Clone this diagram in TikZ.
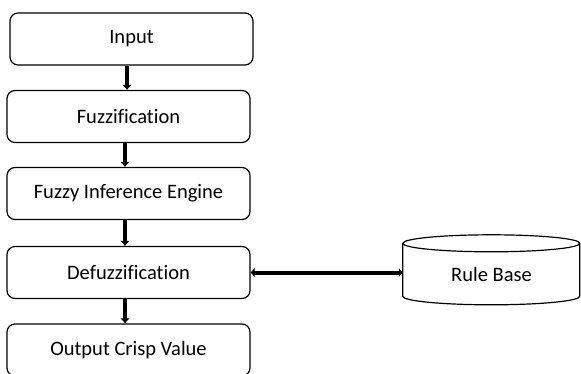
\documentclass[tikz,border=0pt]{standalone}
\usepackage{fontspec}
\setmainfont[Ligatures=NoCommon]{Carlito}
\usetikzlibrary{arrows.meta}
\tikzset{
  label font/.style={font=\fontsize{20.5}{23}\selectfont},
  stage/.style={draw, line width=1.2pt, rounded corners=8pt, minimum width=243pt,
    minimum height=52pt, inner sep=0pt, label font},
  flow/.style={line width=4.2pt, -{Latex[length=5pt,width=10pt]}},
  link/.style={line width=4pt, {Latex[length=4pt,width=10pt]}-{Latex[length=4pt,width=10pt]}},
  drum/.style={draw, line width=1.2pt}
}
\begin{document}
\begin{tikzpicture}[x=1pt,y=-1pt]
  \useasboundingbox (0,0) rectangle (581,373);
  \begin{scope}
    \clip (0,0) rectangle (581,373);
    \node[stage] (in)  at (131.5,39)   {Input};
    \node[stage] (fz)  at (128.5,116.5) {Fuzzification};
    \node[stage] (fie) at (128.5,193.5) {Fuzzy Inference Engine};
    \node[stage] (dfz) at (128.5,272.5) {Defuzzification};
    \node[stage] (out) at (128.5,350)   {Output Crisp Value};
  \end{scope}

  % rule base drum
  \node[minimum width=177pt, minimum height=70pt, inner sep=0pt] (rb) at (491.5,270) {};
  \node[label font] (rbt) at (491.5,274) {Rule Base};
  \draw[drum] (rb.north west) ++(0,8.5) coordinate (tl)
    arc[start angle=180, end angle=0, x radius=88.5pt, y radius=8.5pt]
    -- ++(0,53)
    arc[start angle=0, end angle=-180, x radius=88.5pt, y radius=8.5pt]
    -- cycle;
  \draw[drum] (tl) arc[start angle=180, end angle=360, x radius=88.5pt, y radius=8.5pt];

  % connectors
  \draw[flow] (in.south -| 127,0) -- (fz.north -| 127,0);
  \draw[flow] (fz.south -| 125,0) -- (fie.north -| 125,0);
  \draw[flow] (fie.south -| 125,0) -- (dfz.north -| 125,0);
  \draw[flow] (dfz.south -| 125,0) -- (out.north -| 125,0);
  \draw[link] (dfz.east) -- (dfz.east -| rb.west);
\end{tikzpicture}
\end{document}
